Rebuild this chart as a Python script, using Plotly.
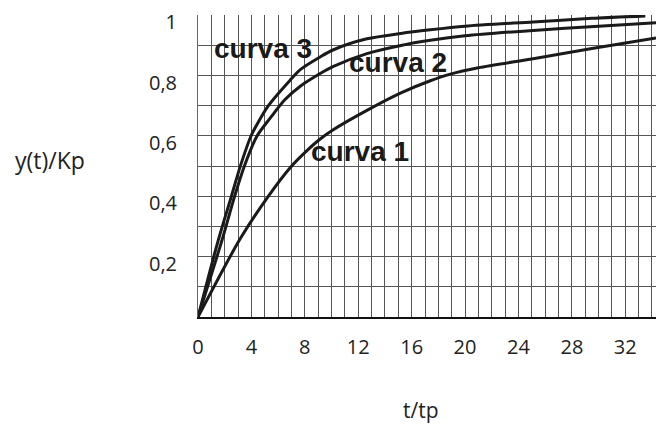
import plotly.graph_objects as go

# ---- data ----
t1 = [0, 3.17, 5.26, 6.9, 8.0, 9.15, 10.1, 12.65, 15.2, 17.4, 18.9, 21.0, 25.1, 29.5, 34.3]
y1 = [0, 0.26, 0.40, 0.495, 0.545, 0.59, 0.62, 0.685, 0.743, 0.783, 0.805, 0.826, 0.856, 0.89, 0.925]

t2 = [0, 1.8, 2.74, 3.47, 4.42, 5.42, 6.5, 7.66, 9.15, 10.1, 12.65, 15.2, 17.4, 20.0, 25.1, 30.0, 34.3]
y2 = [0, 0.255, 0.40, 0.50, 0.60, 0.66, 0.72, 0.765, 0.807, 0.83, 0.873, 0.900, 0.917, 0.932, 0.950, 0.964, 0.975]

t3 = [0, 1.52, 2.5, 3.17, 3.97, 4.5, 5.26, 6.9, 7.66, 9.15, 10.1, 12.65, 15.2, 17.4, 20.0, 25.1, 29.5, 33.5]
y3 = [0, 0.255, 0.40, 0.50, 0.60, 0.645, 0.70, 0.785, 0.82, 0.862, 0.885, 0.922, 0.940, 0.952, 0.964, 0.978, 0.990, 0.998]

x_tick_vals = [0, 4, 8, 12, 16, 20, 24, 28, 32]
x_tick_text = ["0", "4", "8", "12", "16", "20", "24", "28", "32"]
y_tick_vals = [0.2, 0.4, 0.6, 0.8, 1.0]
y_tick_text = ["0,2", "0,4", "0,6", "0,8", "1"]

curve_labels = ["curva 1", "curva 2", "curva 3"]
label_t = [8.3, 11.17, 1.07]
label_y = [0.55, 0.843, 0.89]

W, H = 656, 426
L, T, B, R = 198, 15, 109, 0

fig = go.Figure()
for tt, yy in [(t1, y1), (t2, y2), (t3, y3)]:
    fig.add_trace(go.Scatter(x=tt, y=yy, mode="lines",
                             line=dict(color="#1a1a1a", width=3, shape="spline", smoothing=0.8),
                             showlegend=False, hoverinfo="skip", cliponaxis=True))

for txt, xx, yy in zip(curve_labels, label_t, label_y):
    fig.add_annotation(x=xx, y=yy, xref="x", yref="y", text="<b>%s</b>" % txt,
                       showarrow=False, xanchor="left", yanchor="middle",
                       font=dict(family="Liberation Sans", size=28, color="#1a1a1a"),
                       bgcolor="rgba(0,0,0,0)")

pw = W - L - R
ph = H - T - B
# axis titles (horizontal text)
fig.add_annotation(x=(50 - L) / pw, y=(H - B - 160) / ph, xref="paper", yref="paper",
                   text="y(t)/Kp", showarrow=False, xanchor="center", yanchor="middle",
                   font=dict(family="Open Sans", size=23, color="#222"))
fig.add_annotation(x=(420.5 - L) / pw, y=(H - B - 410) / ph, xref="paper", yref="paper",
                   text="t/tp", showarrow=False, xanchor="center", yanchor="middle",
                   font=dict(family="Open Sans", size=21, color="#222"))

fig.update_layout(
    width=W, height=H,
    margin=dict(l=L, r=R, t=T, b=B, pad=0),
    paper_bgcolor="white", plot_bgcolor="white",
    font=dict(family="Open Sans", size=20, color="#222"),
    xaxis=dict(range=[0, 34.3], showgrid=True, gridcolor="#555", gridwidth=1,
               zeroline=False, showline=True, linecolor="#111", linewidth=2,
               tickmode="array", tickvals=x_tick_vals, ticktext=x_tick_text,
               ticks="", ticklabelstandoff=11, fixedrange=True),
    yaxis=dict(range=[0, 1.001], showgrid=True, gridcolor="#555", gridwidth=1,
               zeroline=False, showline=True, linecolor="#666", linewidth=1,
               tickmode="array", tickvals=y_tick_vals, ticktext=y_tick_text,
               ticks="", ticklabelstandoff=16, ticklabelshift=7, fixedrange=True),
)
# minor grid (every 1 on x, every 0.1 on y)
fig.update_xaxes(minor=dict(dtick=1, tick0=0, showgrid=True, gridcolor="#555", gridwidth=1))
fig.update_yaxes(minor=dict(dtick=0.1, tick0=0, showgrid=True, gridcolor="#555", gridwidth=1))

fig.write_html("out.html", config={"displayModeBar": False, "staticPlot": True},
               post_script="document.body.style.margin='0';")
